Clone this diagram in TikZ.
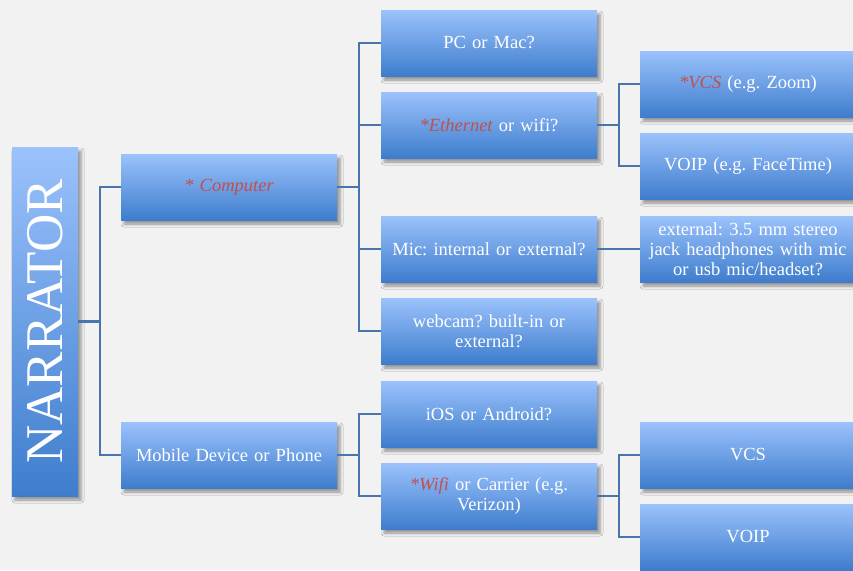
\documentclass[tikz,border=0pt]{standalone}
\usepackage{fontspec}
\setmainfont{Liberation Serif}
\usetikzlibrary{shadows.blur}
\definecolor{boxtop}{RGB}{155,194,252}
\definecolor{boxbot}{RGB}{62,125,205}
\definecolor{linkc}{RGB}{74,116,172}
\definecolor{starred}{RGB}{192,80,77}
\definecolor{bggray}{RGB}{242,242,242}
\newcommand{\req}[1]{\textcolor{starred}{\itshape #1}}
\tikzset{
  box/.style={rectangle, top color=boxtop, bottom color=boxbot,
    minimum width=216pt, minimum height=66pt, inner sep=2pt,
    text width=210pt, align=center, text=white,
    font=\fontsize{18.5}{20}\selectfont\frenchspacing,
    blur shadow={shadow xshift=3pt, shadow yshift=-4pt,
      shadow blur radius=3pt, shadow opacity=40}},
  link/.style={draw=linkc, line width=2.2pt}
}
\begin{document}
\begin{tikzpicture}[x=1pt,y=-1pt]
\clip (0,0) rectangle (853,570);
\fill[bggray] (0,0) rectangle (853,570);
% root
\node[box, minimum width=66pt, minimum height=349pt, text width=50pt] (narr) at (45,321.5) {};
\node[rotate=90, text=white, font=\fontsize{53}{53}\selectfont] (narrtext) at (narr.center) {NARRATOR};
% first level
\node[box] (comp) at (229,187) {\req{* Computer}};
\node[box] (mob) at (229,455) {Mobile Device or Phone};
% second level
\node[box] (pc) at (489,43) {PC or Mac?};
\node[box] (eth) at (489,125) {\req{*Ethernet} or wifi?};
\node[box] (mic) at (489,249) {Mic: internal or external?};
\node[box] (cam) at (489,331) {webcam? built-in or\\external?};
\node[box] (ios) at (489,414) {iOS or Android?};
\node[box] (wifi) at (489,496) {\req{*Wifi} or Carrier (e.g.\\Verizon)};
% third level
\node[box] (vcsa) at (748,84) {\req{*VCS} (e.g. Zoom)};
\node[box] (voipa) at (748,166) {VOIP (e.g. FaceTime)};
\node[box] (ext) at (748,249) {external: 3.5 mm stereo\\jack headphones with mic\\or usb mic/headset?};
\node[box] (vcsb) at (748,455) {VCS};
\node[box] (voipb) at (748,537) {VOIP};
% connectors
\coordinate (j0) at (100,321.5);
\coordinate (j1) at (359,187);
\coordinate (j2) at (619,125);
\coordinate (j3) at (359,455);
\coordinate (j4) at (619,496);
\draw[link] (narr.east) -- (j0);
\foreach \t in {comp,mob} \draw[link] (j0) |- (\t.west);
\draw[link] (comp.east) -- (j1);
\foreach \t in {pc,eth,mic,cam} \draw[link] (j1) |- (\t.west);
\draw[link] (eth.east) -- (j2);
\foreach \t in {vcsa,voipa} \draw[link] (j2) |- (\t.west);
\draw[link] (mic.east) -- (ext.west);
\draw[link] (mob.east) -- (j3);
\foreach \t in {ios,wifi} \draw[link] (j3) |- (\t.west);
\draw[link] (wifi.east) -- (j4);
\foreach \t in {vcsb,voipb} \draw[link] (j4) |- (\t.west);
\end{tikzpicture}
\end{document}
